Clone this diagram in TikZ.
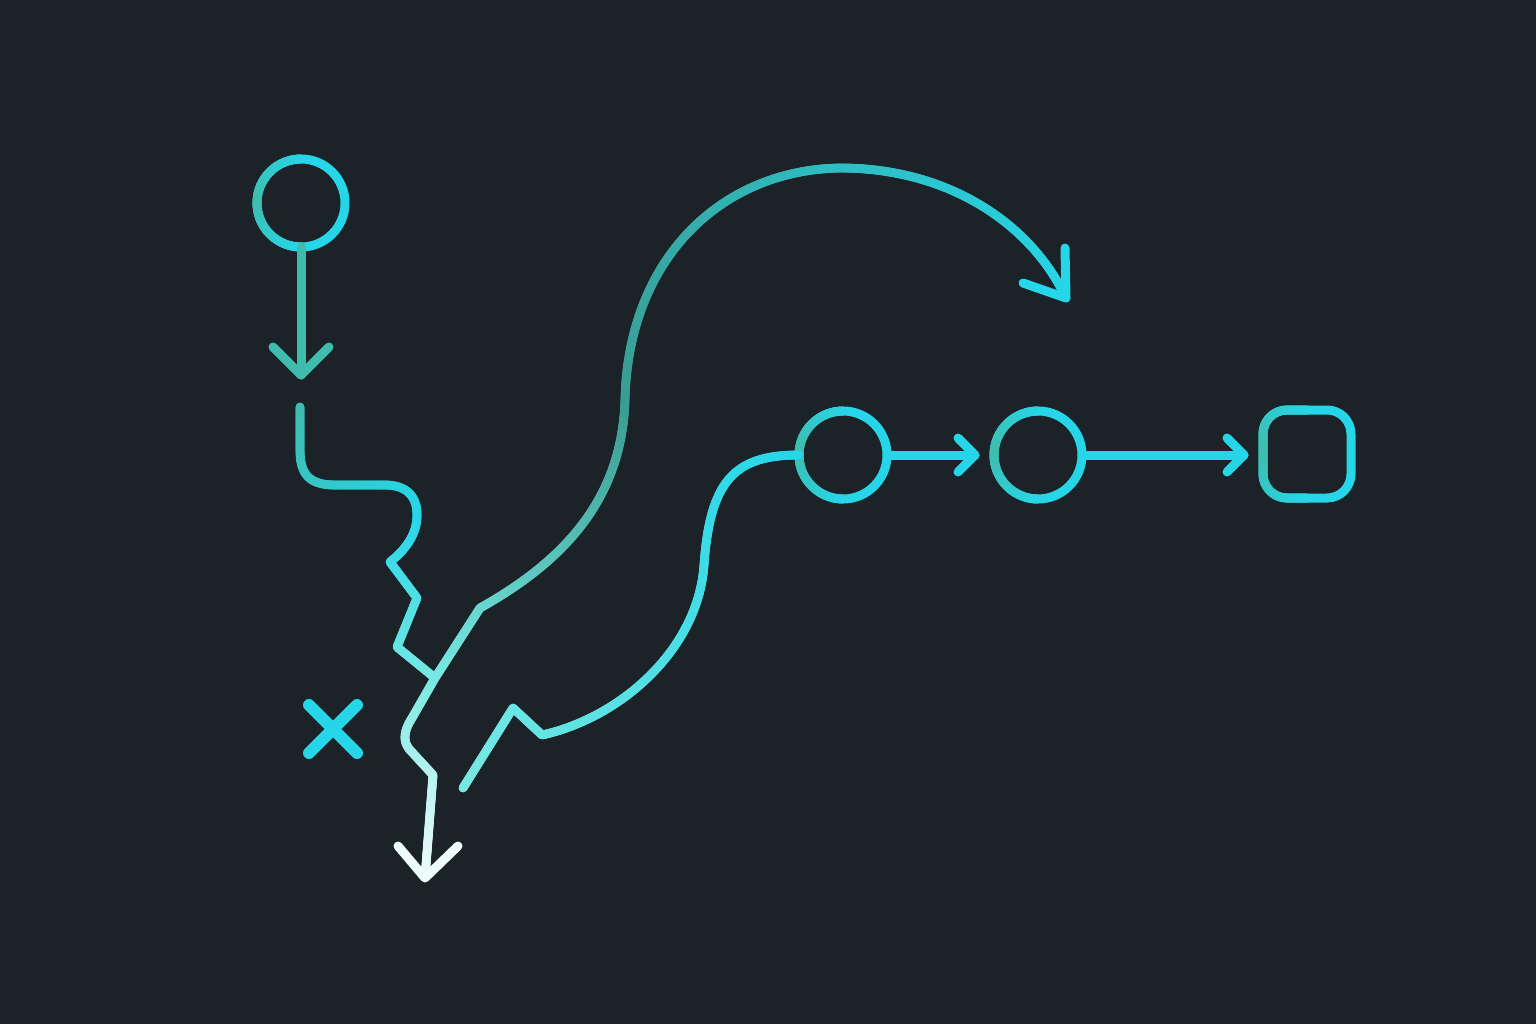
\documentclass[tikz,border=0pt]{standalone}
\usetikzlibrary{decorations.markings}
\definecolor{bg}{HTML}{1B2228}
\definecolor{tealA}{HTML}{40BCAE}
\definecolor{tealD}{HTML}{3A9C91}
\definecolor{cyanA}{HTML}{26D6E8}
\definecolor{lightA}{HTML}{78E8E2}
\definecolor{whiteA}{HTML}{EEFBFB}
\tikzset{
  grad/.style 2 args={decorate, decoration={markings,
     mark=between positions 0 and 1 step 0.8pt with {%
       \pgfmathtruncatemacro{\gp}{(\pgfkeysvalueof{/pgf/decoration/mark info/distance from start}/\pgfdecoratedpathlength)*100}%
       \fill[#2!\gp!#1] (0,0) circle (4.5pt);}}},
  ln/.style={line width=9pt, line cap=round, line join=round},
  ring/.style={circle, draw=cyanA, line width=9pt, minimum size=88pt, inner sep=0pt, outer sep=0pt},
  sq/.style={rectangle, rounded corners=24pt, draw=cyanA, line width=9pt, minimum size=88pt, inner sep=0pt, outer sep=0pt},
}
\newcommand\myring[1]{%
  \path[grad={cyanA}{tealA}] (#1.north) arc[start angle=90,end angle=180,radius=44pt];
  \path[grad={tealA}{cyanA}] (#1.west) arc[start angle=180,end angle=270,radius=44pt];}
\begin{document}
\begin{tikzpicture}[x=1pt,y=-1pt]
\useasboundingbox (0,0) rectangle (1536,1024);
\fill[bg] (0,0) rectangle (1536,1024);

% nodes
\node[ring] (c0) at (301,203) {};
\node[ring] (c1) at (843,455) {};
\node[ring] (c2) at (1038,455) {};
\node[sq] (s) at (1307,454) {};
\myring{c0}\myring{c1}\myring{c2}
\path[grad={cyanA}{tealA}, rounded corners=24pt] (s.north) -- (s.north west) -- (s.west);
\path[grad={tealA}{cyanA}, rounded corners=24pt] (s.west) -- (s.south west) -- (s.south);

% coordinates
\coordinate (t0) at (301,375);
\coordinate (p1s) at (300,407);
\coordinate (p1m) at (417,515);
\coordinate (J) at (435,678);
\coordinate (t1) at (425,878);
\coordinate (k1) at (480,608);
\coordinate (am) at (625,400);
\coordinate (t2) at (1064,294);
\coordinate (p3s) at (463,788);
\coordinate (t3) at (975,455);
\coordinate (t4) at (1244,455);

% top arrow
\draw[ln, tealA] (c0.south) -- (t0);
\draw[ln, tealA] (273,347) -- (t0) -- (329,347);

% wavy path into junction
\path[grad={tealA}{cyanA}] (p1s) -- (300,450) .. controls (300,475) and (310,485) .. (335,485) -- (385,485) .. controls (405,485) and (417,495) .. (p1m);
\path[grad={cyanA}{lightA}] (p1m) .. controls (417,535) and (405,550) .. (390,562) -- (417,598) -- (397,647) -- (J);

% white path down
\path[grad={lightA}{whiteA}] (J) -- (412,718) .. controls (403,732) and (403,742) .. (410,750) -- (433,775) -- (t1);
\draw[ln, whiteA] (398,846) -- (t1) -- (458,846);

% big arc
\path[grad={lightA}{tealD}] (J) -- (k1) .. controls (575,555) and (622,490) .. (am);
\path[grad={tealD}{cyanA}] (am) .. controls (628,260) and (720,170) .. (840,168) .. controls (950,168) and (1030,225) .. (t2);
\draw[ln, cyanA] (1023,283) -- (1066,298) -- (1065,248);

% third path to first circle
\path[grad={lightA}{cyanA}] (p3s) -- (513,708) -- (542,735) .. controls (620,718) and (698,650) .. (704,565) .. controls (710,480) and (735,455) .. (c1.west);

% chain arrows
\draw[ln, cyanA] (c1.east) -- (t3);
\draw[ln, cyanA] (958,438) -- (t3) -- (958,472);
\draw[ln, cyanA] (c2.east) -- (t4);
\draw[ln, cyanA] (1227,438) -- (t4) -- (1227,472);

% X mark
\draw[ln, cyanA, line width=12pt] (309,705) -- (357,753);
\draw[ln, cyanA, line width=12pt] (357,705) -- (309,753);
\end{tikzpicture}
\end{document}
